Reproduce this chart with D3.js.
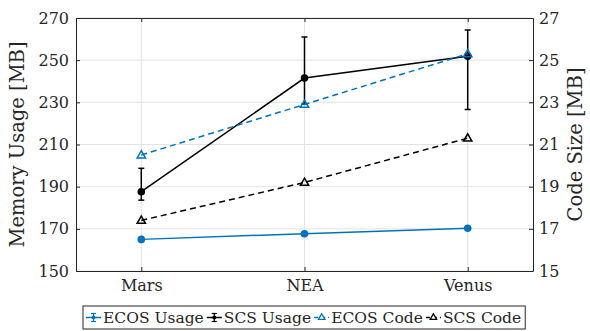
<!DOCTYPE html>
<html>
<head>
<meta charset="utf-8">
<script src="https://cdn.jsdelivr.net/npm/d3@7"></script>
<style>
  body { margin: 0; background: #fff; }
  text { font-family: "DejaVu Serif", serif; fill: #262626; }
</style>
</head>
<body>
<svg id="chart"></svg>
<script>
// data
const categories = ["Mars", "NEA", "Venus"];
const ecosUsage = [165.0, 167.7, 170.3];
const ecosUsageLow = [164.6, 167.3, 169.9];
const ecosUsageHigh = [165.4, 168.1, 170.7];
const scsUsage = [187.6, 241.5, 251.9];
const scsUsageLow = [183.6, 229.2, 226.6];
const scsUsageHigh = [198.7, 261.0, 264.3];
const ecosCode = [20.5, 22.9, 25.3];
const scsCode = [17.4, 19.2, 21.3];
const usageTicks = [150, 170, 190, 210, 230, 250, 270];
const codeTicks = [15, 17, 19, 21, 23, 25, 27];
const legendLabels = ["ECOS Usage", "SCS Usage", "ECOS Code", "SCS Code"];

const width = 590, height = 331;
const margin = {top: 18, right: 57, bottom: 60, left: 76};
const blue = "#0072BD", black = "#000", axisColor = "#262626";

const svg = d3.select("#chart").attr("width", width).attr("height", height);

const x = d3.scalePoint().domain(categories).range([margin.left, width - margin.right]).padding(0.4);
const yL = d3.scaleLinear().domain([150, 270]).range([height - margin.bottom, margin.top]);
const yR = d3.scaleLinear().domain([15, 27]).range([height - margin.bottom, margin.top]);

const x0 = margin.left, x1 = width - margin.right;
const y0 = height - margin.bottom, y1 = margin.top;

// grid
const grid = svg.append("g").attr("stroke", "#e3e3e3").attr("stroke-width", 1);
grid.selectAll(".gh").data(usageTicks).enter().append("line")
    .attr("x1", x0).attr("x2", x1)
    .attr("y1", d => yL(d)).attr("y2", d => yL(d));
grid.selectAll(".gv").data(categories).enter().append("line")
    .attr("x1", d => x(d)).attr("x2", d => x(d))
    .attr("y1", y0).attr("y2", y1);

// axes
function styleAxis(g) {
    g.select(".domain").attr("stroke", axisColor);
    g.selectAll(".tick line").attr("stroke", axisColor);
    g.selectAll(".tick text").attr("fill", axisColor).style("font-size", "16px");
}
svg.append("g").attr("transform", `translate(${x0},0)`)
    .call(d3.axisLeft(yL).tickValues(usageTicks).tickSize(-4).tickPadding(7).tickSizeOuter(0))
    .call(styleAxis);
svg.append("g").attr("transform", `translate(${x1},0)`)
    .call(d3.axisRight(yR).tickValues(codeTicks).tickSize(-4).tickPadding(6).tickSizeOuter(0))
    .call(styleAxis);
svg.append("g").attr("transform", `translate(0,${y0})`)
    .call(d3.axisBottom(x).tickSize(-4).tickPadding(9).tickSizeOuter(0))
    .call(styleAxis);
svg.append("g").attr("transform", `translate(0,${y1})`)
    .call(d3.axisTop(x).tickSize(-4).tickFormat("").tickSizeOuter(0))
    .call(styleAxis);

// axis titles
svg.append("text")
    .attr("transform", `translate(24,${(y0 + y1) / 2}) rotate(-90)`)
    .attr("text-anchor", "middle")
    .style("font-size", "19.5px")
    .text("Memory Usage [MB]");
svg.append("text")
    .attr("transform", `translate(582,${(y0 + y1) / 2}) rotate(-90)`)
    .attr("text-anchor", "middle")
    .style("font-size", "19.5px")
    .text("Code Size [MB]");

// series
const line = (ys, scale) => d3.line().x((d, i) => x(categories[i])).y(d => scale(d))(ys);

function errorSeries(values, low, high, color) {
    const g = svg.append("g");
    g.append("path").attr("d", line(values, yL))
        .attr("fill", "none").attr("stroke", color).attr("stroke-width", 1.5);
    categories.forEach((c, i) => {
        const cx = x(c);
        g.append("line").attr("x1", cx).attr("x2", cx)
            .attr("y1", yL(low[i])).attr("y2", yL(high[i]))
            .attr("stroke", color).attr("stroke-width", 1.5);
        [low[i], high[i]].forEach(v => {
            g.append("line").attr("x1", cx - 3).attr("x2", cx + 3)
                .attr("y1", yL(v)).attr("y2", yL(v))
                .attr("stroke", color).attr("stroke-width", 1.5);
        });
    });
    g.selectAll("circle").data(values).enter().append("circle")
        .attr("cx", (d, i) => x(categories[i])).attr("cy", d => yL(d))
        .attr("r", 3.8).attr("fill", color);
}

const tri = d3.symbol().type(d3.symbolTriangle).size(30);
function codeSeries(values, color) {
    const g = svg.append("g");
    g.append("path").attr("d", line(values, yR))
        .attr("fill", "none").attr("stroke", color).attr("stroke-width", 1.5)
        .attr("stroke-dasharray", "6,4");
    g.selectAll(".m").data(values).enter().append("path")
        .attr("d", tri)
        .attr("transform", (d, i) => `translate(${x(categories[i])},${yR(d) + 0.5})`)
        .attr("fill", "none").attr("stroke", color).attr("stroke-width", 1.5);
}

errorSeries(ecosUsage, ecosUsageLow, ecosUsageHigh, blue);
errorSeries(scsUsage, scsUsageLow, scsUsageHigh, black);
codeSeries(ecosCode, blue);
codeSeries(scsCode, black);

// legend
const legend = svg.append("g");
const legendColors = [blue, black, blue, black];
const ly = 317.5;
let lx = 86;
const iconW = 15;
legendLabels.forEach((label, i) => {
    const g = legend.append("g");
    const color = legendColors[i];
    if (i < 2) {
        g.append("line").attr("x1", lx).attr("x2", lx + iconW).attr("y1", ly).attr("y2", ly)
            .attr("stroke", color).attr("stroke-width", 1.5);
        const cx = lx + iconW / 2;
        g.append("line").attr("x1", cx).attr("x2", cx).attr("y1", ly - 4).attr("y2", ly + 4)
            .attr("stroke", color).attr("stroke-width", 1.2);
        [ly - 4, ly + 4].forEach(v => g.append("line").attr("x1", cx - 2.5).attr("x2", cx + 2.5)
            .attr("y1", v).attr("y2", v).attr("stroke", color).attr("stroke-width", 1.2));
        g.append("circle").attr("cx", cx).attr("cy", ly).attr("r", 2).attr("fill", color);
    } else {
        g.append("line").attr("x1", lx).attr("x2", lx + iconW).attr("y1", ly).attr("y2", ly)
            .attr("stroke", color).attr("stroke-width", 1.5).attr("stroke-dasharray", "4,3");
        g.append("path").attr("d", d3.symbol().type(d3.symbolTriangle).size(18))
            .attr("transform", `translate(${lx + iconW / 2},${ly})`)
            .attr("fill", "#fff").attr("stroke", color).attr("stroke-width", 1.3);
    }
    const t = g.append("text").attr("x", lx + iconW + 2).attr("y", ly).attr("dy", "0.35em")
        .style("font-size", "15.5px").text(label);
    lx += iconW + 2 + t.node().getComputedTextLength() + 3;
});
legend.insert("rect", ":first-child")
    .attr("x", 83).attr("y", 306).attr("width", lx - 83 + 1).attr("height", 23)
    .attr("fill", "#fff").attr("stroke", axisColor).attr("stroke-width", 1);
</script>
</body>
</html>
